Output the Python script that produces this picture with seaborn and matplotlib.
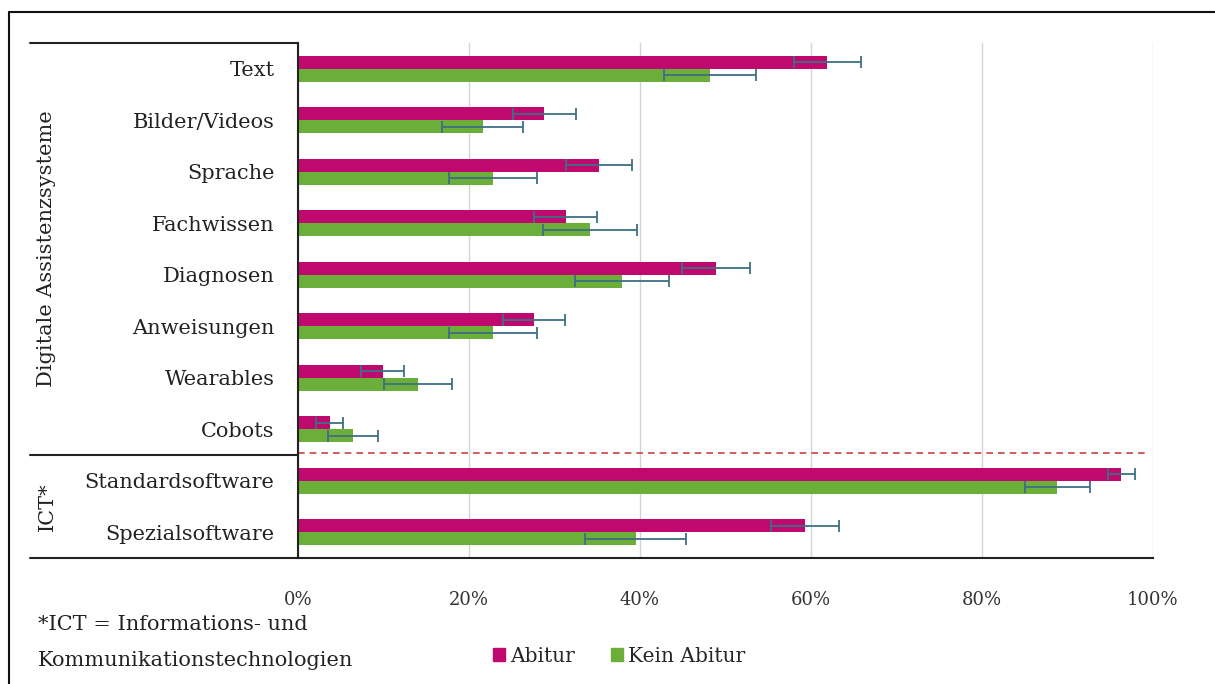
import matplotlib
matplotlib.use("Agg")
import matplotlib.pyplot as plt
from matplotlib.lines import Line2D
import seaborn as sns
import pandas as pd
import numpy as np

categories = ["Text", "Bilder/Videos", "Sprache", "Fachwissen", "Diagnosen",
              "Anweisungen", "Wearables", "Cobots", "Standardsoftware", "Spezialsoftware"]
abitur = [61.9, 28.8, 35.2, 31.3, 48.9, 27.6, 9.9, 3.7, 96.3, 59.3]
abitur_err = [3.9, 3.7, 3.9, 3.7, 4.0, 3.6, 2.5, 1.6, 1.6, 4.0]
kein_abitur = [48.2, 21.6, 22.8, 34.2, 37.9, 22.8, 14.0, 6.4, 88.8, 39.5]
kein_abitur_err = [5.4, 4.7, 5.1, 5.5, 5.5, 5.1, 4.0, 2.9, 3.8, 5.9]
series = ["Abitur", "Kein Abitur"]
colors = ["#C0096F", "#6BAF3A"]
xticks = [0, 20, 40, 60, 80, 100]
xtick_labels = ["0%", "20%", "40%", "60%", "80%", "100%"]
groups = [("Digitale Assistenzsysteme", 0, 7), ("ICT*", 8, 9)]

sns.set_theme(style="white")
plt.rcParams['font.family'] = ['DejaVu Serif']

df = pd.DataFrame({
    "Kategorie": categories * 2,
    "Gruppe": [series[0]] * len(categories) + [series[1]] * len(categories),
    "Wert": abitur + kein_abitur,
})

W, H = 1215, 684
fig = plt.figure(figsize=(W / 100, H / 100), dpi=100)
ax_l, ax_r, ax_t, ax_b = 298, 1153, 43, 558
ax = fig.add_axes([ax_l / W, 1 - ax_b / H, (ax_r - ax_l) / W, (ax_b - ax_t) / H])

sns.barplot(data=df, y="Kategorie", x="Wert", hue="Gruppe", order=categories,
            hue_order=series, palette=colors, orient="h", width=0.5,
            errorbar=None, saturation=1, ax=ax, legend=False, edgecolor="none")

errs = [abitur_err, kein_abitur_err]
vals = [abitur, kein_abitur]
for cont, v, e in zip(ax.containers, vals, errs):
    ys = [p.get_y() + p.get_height() / 2 for p in cont.patches]
    ax.errorbar(v, ys, xerr=e, fmt="none", ecolor="#3D6F84", elinewidth=1.3,
                capsize=4.5, capthick=1.3, zorder=5)

ax.set_xlim(0, 100)
ax.set_ylim(len(categories) - 0.5, -0.5)
ax.set_xticks(xticks)
ax.set_xticklabels(xtick_labels, fontsize=13, color="#333333")
ax.tick_params(axis="x", length=0, pad=24)
ax.tick_params(axis="y", length=0, pad=17, labelsize=15, labelcolor="#222222")
ax.set_xlabel("")
ax.set_ylabel("")
ax.grid(axis="x", color="#D4D4D4", linewidth=1)
ax.set_axisbelow(True)
for s in ["top", "right"]:
    ax.spines[s].set_visible(False)
for s in ["left", "bottom"]:
    ax.spines[s].set_color("#222222")
    ax.spines[s].set_linewidth(1.5)

# red dashed separator
ax.axhline(7.46, xmin=0, xmax=0.993, color="#C8443F", linestyle=(0, (4, 3)), linewidth=1.2)

# label box lines (figure pixels)
def fig_line(x0, y0, x1, y1, lw=1.5, color="#222222"):
    fig.add_artist(Line2D([x0 / W, x1 / W], [1 - y0 / H, 1 - y1 / H],
                          color=color, linewidth=lw, transform=fig.transFigure))

fig_line(30, ax_t, ax_l, ax_t)
fig_line(30, ax_b, ax_l, ax_b)
sep_y = ax_t + (ax_b - ax_t) * 8 / 10
fig_line(30, sep_y, ax_l, sep_y)
# outer frame
fig_line(9, 12, W, 12, lw=1.5, color="#111111")
fig_line(9, 12, 9, H, lw=1.5, color="#111111")

# group labels
row_h = (ax_b - ax_t) / len(categories)
for name, i0, i1 in groups:
    yc = ax_t + row_h * ((i0 + i1) / 2 + 0.5)
    fig.text(47 / W, 1 - yc / H, name, rotation=90, ha="center", va="center",
             fontsize=15, color="#222222")

# footnote
fig.text(38 / W, 1 - 625 / H, "*ICT = Informations- und", fontsize=15,
         color="#222222", va="center")
fig.text(38 / W, 1 - 661 / H, "Kommunikationstechnologien", fontsize=15,
         color="#222222", va="center")

# legend
handles = [plt.Rectangle((0, 0), 1, 1, color=c) for c in colors]
fig.legend(handles, series, loc="center", bbox_to_anchor=(619 / W, 1 - 656 / H),
           ncol=2, frameon=False, fontsize=14.5, handlelength=0.6, handleheight=0.6,
           handletextpad=0.25, columnspacing=1.8)

fig.savefig("out.png", dpi=100)
